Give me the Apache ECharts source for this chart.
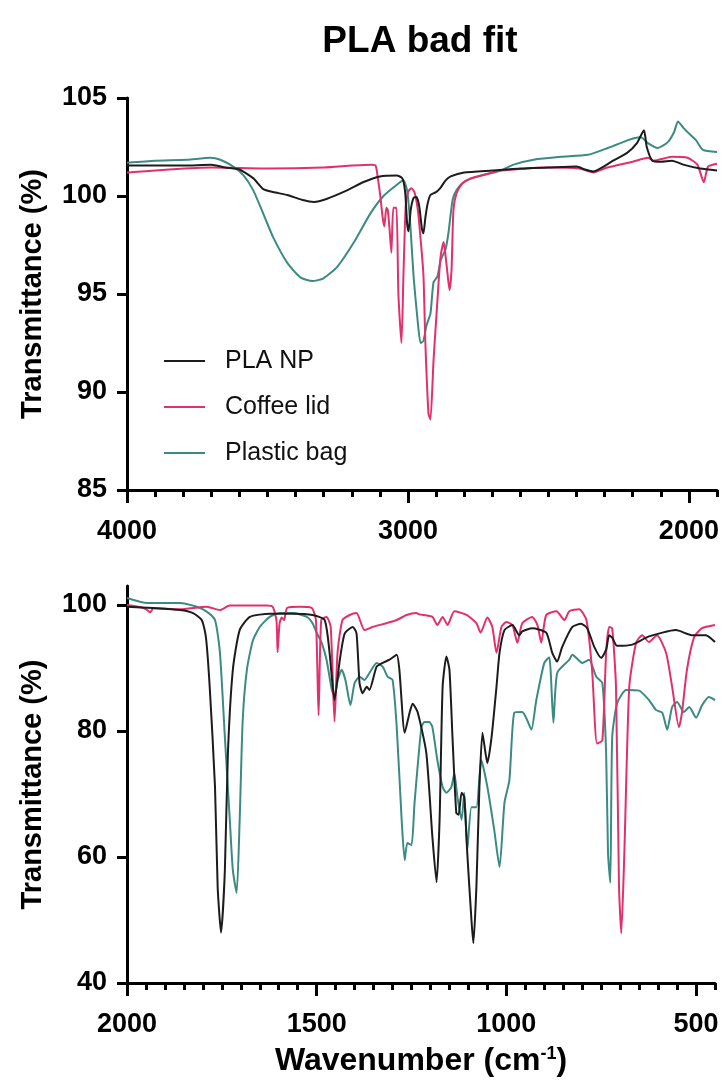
<!DOCTYPE html>
<html><head><meta charset="utf-8">
<script src="https://cdn.jsdelivr.net/npm/echarts@6/dist/echarts.min.js"></script>
<style>html,body{margin:0;padding:0;background:#fff}#c{width:724px;height:1091px}</style>
</head><body><div id="c"></div>
<script>
const seriesNames = ['PLA NP', 'Coffee lid', 'Plastic bag'];
const seriesColors = ['#1c1c1c', '#e2306a', '#3b8b83'];

const topXLabels = [2000, 3000, 4000];
const topYLabels = [85, 90, 95, 100, 105];
const bottomXLabels = [500, 1000, 1500, 2000];
const bottomYLabels = [40, 60, 80, 100];

// Upper panel (4000 - 1900 cm-1): [wavenumber, transmittance %]
const plaTop = [[4000,101.55],[3900,101.55],[3800,101.55],[3700,101.6],[3650,101.45],[3600,101.35],[3550,100.9],[3515,100.35],[3480,100.2],[3430,100.05],[3375,99.8],[3335,99.7],[3290,99.85],[3215,100.3],[3160,100.7],[3100,101.0],[3040,101.05],[3020,100.9],[3010,100.2],[3003,98.6],[2998,98.2],[2990,99.3],[2980,99.9],[2970,99.95],[2960,99.5],[2950,98.3],[2945,98.1],[2938,98.9],[2930,99.6],[2920,100.05],[2900,100.2],[2885,100.4],[2866,100.8],[2848,101.0],[2800,101.2],[2700,101.3],[2600,101.4],[2500,101.45],[2400,101.5],[2370,101.35],[2340,101.25],[2310,101.45],[2270,101.8],[2220,102.2],[2185,102.7],[2160,103.35],[2150,102.5],[2130,101.8],[2100,101.75],[2060,101.8],[2020,101.6],[1960,101.4],[1900,101.3]];
const coffeeTop = [[4000,101.2],[3850,101.35],[3700,101.45],[3500,101.4],[3300,101.45],[3200,101.55],[3130,101.6],[3115,101.55],[3108,101.0],[3098,99.95],[3090,98.9],[3084,98.45],[3077,99.4],[3072,99.3],[3066,98.4],[3059,97.1],[3052,99.4],[3041,99.4],[3034,95.0],[3023,92.5],[3016,96.0],[3008,99.5],[3000,100.2],[2988,100.4],[2977,100.2],[2965,99.3],[2955,97.8],[2945,96.0],[2938,92.5],[2927,88.9],[2920,88.6],[2909,91.6],[2895,94.7],[2884,96.9],[2873,97.65],[2868,97.2],[2859,96.0],[2852,95.2],[2845,96.2],[2838,99.3],[2827,100.15],[2806,100.65],[2777,100.9],[2730,101.07],[2670,101.3],[2500,101.45],[2390,101.4],[2340,101.2],[2290,101.45],[2200,101.75],[2146,101.95],[2125,101.8],[2060,102.0],[2005,101.95],[1970,101.6],[1947,100.7],[1932,101.5],[1900,101.65]];
const bagTop = [[4000,101.7],[3900,101.8],[3786,101.85],[3704,101.95],[3668,101.85],[3622,101.5],[3586,101.07],[3551,100.3],[3515,99.1],[3480,97.9],[3430,96.6],[3383,95.85],[3340,95.66],[3301,95.8],[3251,96.4],[3194,97.6],[3134,99.1],[3087,100.0],[3037,100.6],[3016,100.8],[3002,100.2],[2991,98.4],[2980,95.9],[2966,93.7],[2955,92.5],[2945,92.6],[2934,93.4],[2920,94.0],[2909,95.6],[2895,95.9],[2884,96.7],[2866,97.3],[2856,98.1],[2841,99.8],[2827,100.3],[2802,100.7],[2752,101.0],[2670,101.3],[2624,101.6],[2553,101.85],[2456,102.0],[2360,102.1],[2289,102.45],[2217,102.85],[2196,102.95],[2171,103.0],[2146,102.7],[2111,102.45],[2075,102.75],[2053,103.25],[2039,103.8],[2018,103.45],[1993,103.1],[1975,102.85],[1950,102.35],[1900,102.25]];

// Lower panel (2000 - 450 cm-1)
const plaBottom = [[2000,99.7],[1930,99.5],[1860,99.2],[1826,98.7],[1803,97.6],[1792,94.9],[1782,87.0],[1768,71.1],[1761,55.2],[1752,48.0],[1742,57.9],[1734,76.5],[1721,89.7],[1703,96.0],[1676,98.1],[1624,98.6],[1563,98.6],[1511,98.4],[1479,97.6],[1466,92.4],[1453,84.9],[1439,91.3],[1426,95.5],[1405,96.5],[1395,95.5],[1387,87.6],[1379,86.0],[1368,87.0],[1361,86.5],[1342,90.2],[1326,90.8],[1308,91.3],[1289,92.1],[1282,89.7],[1268,79.7],[1255,82.9],[1247,84.3],[1234,83.0],[1211,76.5],[1195,63.2],[1184,56.0],[1176,65.9],[1168,87.0],[1158,91.8],[1150,89.7],[1142,79.0],[1132,67.0],[1126,66.7],[1118,70.2],[1111,69.5],[1103,60.6],[1092,50.0],[1087,46.3],[1079,55.2],[1071,71.1],[1063,79.7],[1055,76.5],[1050,74.9],[1039,79.0],[1026,87.0],[1018,92.4],[1005,96.0],[984,96.8],[966,95.2],[958,95.8],[932,96.3],[895,95.6],[879,92.4],[866,91.0],[853,93.3],[826,96.5],[803,97.0],[787,96.3],[768,93.3],[750,91.6],[737,92.9],[729,95.2],[721,94.8],[708,93.5],[668,93.7],[624,95.0],[553,96.0],[511,95.2],[474,95.2],[450,94.1]];
const coffeeBottom = [[2000,100.0],[1960,99.6],[1947,99.2],[1939,98.8],[1930,99.5],[1860,99.3],[1790,99.7],[1755,99.2],[1729,99.9],[1632,99.9],[1616,99.7],[1606,97.6],[1603,92.5],[1598,97.0],[1592,98.0],[1586,97.6],[1578,99.5],[1545,99.7],[1513,99.5],[1502,97.6],[1495,82.5],[1488,97.6],[1474,98.1],[1463,96.5],[1453,81.5],[1445,92.4],[1432,97.6],[1413,98.4],[1395,98.7],[1374,96.0],[1353,96.5],[1316,97.1],[1289,97.6],[1263,98.4],[1237,98.7],[1229,98.5],[1195,98.1],[1182,96.8],[1168,98.1],[1155,96.8],[1137,99.0],[1105,98.4],[1079,97.1],[1068,95.6],[1050,98.0],[1037,96.5],[1026,92.4],[1013,96.5],[1000,97.3],[984,96.8],[971,94.0],[958,97.1],[932,98.1],[918,96.8],[908,94.0],[895,98.4],[868,99.0],[847,97.6],[834,99.0],[808,99.3],[789,97.6],[774,89.7],[761,78.0],[747,78.5],[737,92.4],[729,96.5],[721,96.3],[711,87.0],[703,55.2],[697,47.9],[689,60.6],[676,87.0],[658,94.0],[642,95.2],[624,94.1],[603,95.2],[579,92.4],[563,87.0],[545,80.6],[537,82.9],[524,89.7],[505,94.9],[484,96.3],[450,96.8]];
const bagBottom = [[2000,101.1],[1947,100.3],[1861,100.3],[1816,99.7],[1789,98.9],[1768,97.6],[1755,92.4],[1742,79.0],[1729,65.9],[1721,57.9],[1711,54.3],[1703,65.9],[1695,81.7],[1684,89.7],[1668,94.4],[1650,96.5],[1624,98.1],[1597,98.7],[1563,98.7],[1526,98.1],[1511,97.1],[1500,95.6],[1487,94.0],[1474,91.3],[1460,86.5],[1453,85.5],[1445,88.0],[1434,89.7],[1424,88.0],[1411,84.1],[1400,87.6],[1387,88.6],[1374,88.1],[1361,89.2],[1342,90.8],[1326,90.2],[1313,88.6],[1300,88.1],[1289,80.6],[1276,65.9],[1268,59.5],[1261,62.2],[1250,61.9],[1242,68.6],[1224,80.6],[1216,81.4],[1203,81.4],[1195,80.6],[1182,75.4],[1168,71.1],[1158,70.2],[1145,71.1],[1137,73.3],[1129,69.5],[1118,65.9],[1111,70.2],[1103,61.1],[1092,67.9],[1079,67.9],[1066,75.4],[1050,71.1],[1032,64.3],[1018,58.4],[1005,68.6],[992,72.2],[979,82.9],[958,83.0],[945,81.7],[934,80.2],[921,84.9],[900,90.8],[887,91.7],[876,81.3],[866,89.2],[834,91.3],[826,92.1],[800,90.8],[782,91.3],[763,88.6],[747,87.6],[737,76.5],[732,60.6],[726,55.9],[721,79.0],[708,84.4],[684,86.5],[650,86.4],[624,84.9],[605,83.3],[589,82.9],[576,80.2],[563,83.8],[550,84.6],[532,83.0],[518,83.8],[500,82.1],[484,84.1],[466,85.4],[450,84.9]];

const FONT = '"Liberation Sans", Arial, sans-serif';
function range(a, b, s) { const r = []; for (let v = a; v <= b; v += s) r.push(v); return r; }
const plain = v => String(v);

const axisLineStyle = { color: '#000', width: 3 };
const labelStyle = { fontFamily: FONT, fontSize: 27, fontWeight: 'bold', color: '#000', formatter: plain };

function xMain(grid, min, max, minorStep, labels, margin) {
  return {
    type: 'value', gridIndex: grid, min: min, max: max, inverse: true, position: 'bottom',
    axisLine: { show: true, lineStyle: axisLineStyle },
    axisTick: { show: true, length: 7, lineStyle: { color: '#000', width: 3 }, customValues: range(min, max, minorStep) },
    axisLabel: Object.assign({ show: true, margin: margin, customValues: labels }, labelStyle),
    splitLine: { show: false }
  };
}
function xMajor(grid, min, max, labels) {
  return {
    type: 'value', gridIndex: grid, min: min, max: max, inverse: true, position: 'bottom',
    axisLine: { show: false },
    axisTick: { show: true, length: 13, lineStyle: { color: '#000', width: 3 }, customValues: labels },
    axisLabel: { show: false },
    splitLine: { show: false }
  };
}
function yAxis(grid, min, max, labels) {
  return {
    type: 'value', gridIndex: grid, min: min, max: max,
    name: 'Transmittance (%)', nameLocation: 'middle', nameGap: 80,
    nameTextStyle: { fontFamily: FONT, fontSize: 29, fontWeight: 'bold', color: '#000' },
    axisLine: { show: true, lineStyle: axisLineStyle },
    axisTick: { show: true, length: 10, lineStyle: { color: '#000', width: 3 }, customValues: labels },
    axisLabel: Object.assign({ margin: 20, customValues: labels }, labelStyle),
    splitLine: { show: false }
  };
}

const bottomXMain = xMain(1, 450, 2000, 50, bottomXLabels, 28);
bottomXMain.name = 'Wavenumber (cm{sup|-1})';
bottomXMain.nameLocation = 'middle';
bottomXMain.nameGap = 62;
bottomXMain.nameTextStyle = {
  fontFamily: FONT, fontSize: 32, fontWeight: 'bold', color: '#000',
  rich: { sup: { fontFamily: FONT, fontSize: 18, fontWeight: 'bold', color: '#000', verticalAlign: 'top', padding: [0, 0, 12, 0] } }
};

const panelData = [[plaTop, coffeeTop, bagTop], [plaBottom, coffeeBottom, bagBottom]];
const series = [];
panelData.forEach((sets, p) => {
  sets.forEach((d, i) => {
    series.push({
      type: 'line', name: seriesNames[i], xAxisIndex: p * 2, yAxisIndex: p,
      data: d, symbol: 'none', smooth: 0.2,
      lineStyle: { color: seriesColors[i], width: 2 }, itemStyle: { color: seriesColors[i] },
      z: 3 - i
    });
  });
});

const chart = echarts.init(document.getElementById('c'), null, { renderer: 'canvas' });
chart.setOption({
  animation: false,
  backgroundColor: '#fff',
  graphic: [{
    type: 'text', x: 420, y: 23,
    style: { text: 'PLA bad fit', font: 'bold 37px ' + FONT, fill: '#000', textAlign: 'center', textVerticalAlign: 'top' }
  }],
  legend: {
    data: seriesNames, orient: 'vertical', left: 159, top: 341,
    icon: 'rect', itemWidth: 41, itemHeight: 2, itemGap: 16,
    textStyle: { fontFamily: FONT, fontSize: 25, color: '#111', lineHeight: 30, padding: [0, 0, 0, 15] }
  },
  grid: [
    { left: 127, top: 98, width: 590, height: 392, containLabel: false },
    { left: 127, top: 586, width: 588, height: 397, containLabel: false }
  ],
  xAxis: [
    xMain(0, 1900, 4000, 100, topXLabels, 28),
    xMajor(0, 1900, 4000, topXLabels),
    bottomXMain,
    xMajor(1, 450, 2000, bottomXLabels)
  ],
  yAxis: [
    yAxis(0, 85, 105, topYLabels),
    yAxis(1, 40, 103, bottomYLabels)
  ],
  series: series
});
</script></body></html>
